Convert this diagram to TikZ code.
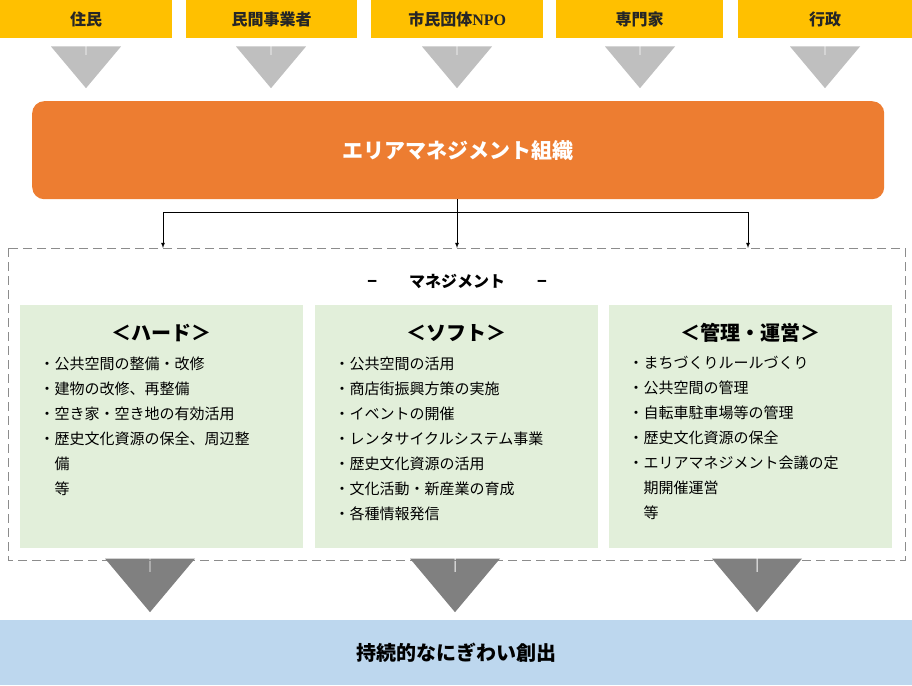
\documentclass[tikz,border=0pt]{standalone}
\usepackage{fontspec}
\setmainfont{Noto Sans CJK JP}
\newfontfamily\npofont{Liberation Serif}
\usetikzlibrary{positioning, shapes.arrows}
\definecolor{actorYellow}{HTML}{FFC000}
\definecolor{orgOrange}{HTML}{ED7D31}
\definecolor{areaGreen}{HTML}{E2EFDA}
\definecolor{goalBlue}{HTML}{BDD7EE}
\tikzset{
  actor/.style={fill=actorYellow, minimum height=38pt, inner sep=0pt, font=\fontsize{16}{18}\selectfont\bfseries, text=black!85},
  feed/.style={single arrow, fill=black!25, draw=none, shape border rotate=270, minimum height=33pt, minimum width=70pt, single arrow head extend=15pt, single arrow tip angle=80, inner sep=0pt},
  result/.style={feed, fill=black!50, minimum height=40pt, minimum width=90pt, single arrow head extend=18pt},
  field/.style={fill=areaGreen, minimum width=283pt, minimum height=243pt, anchor=north west, inner sep=0pt},
  item/.style={align=left, anchor=north west, font=\fontsize{15}{25}\selectfont}
}
\begin{document}
\begin{tikzpicture}[x=1pt, y=-1pt]
  \useasboundingbox (0,0) rectangle (912,685);

  % stakeholders
  \node[actor, minimum width=172pt, anchor=north west] (resident) at (0,0) {住民};
  \node[actor, minimum width=171pt, anchor=north west] (business) at (186,0) {民間事業者};
  \node[actor, minimum width=172pt, anchor=north west] (npo) at (371,0) {市民団体{\npofont NPO}};
  \node[actor, minimum width=167pt, anchor=north west] (expert) at (556,0) {専門家};
  \node[actor, minimum width=174pt, anchor=north west] (admin) at (738,0) {行政};
  \foreach \x in {86,271,457,640,825}
    \node[feed, anchor=north] at (\x,55) {};

  % organisation
  \node[fill=orgOrange, rounded corners=12pt, minimum width=852pt, minimum height=98pt, anchor=north west, text=white, font=\fontsize{21}{24}\selectfont\bfseries] (org) at (32,101) {エリアマネジメント組織};

  \coordinate (split) at (457,212);
  \coordinate (hardtop) at (163,248);
  \coordinate (softtop) at (457,248);
  \coordinate (mgmttop) at (748,248);
  \draw[thick] (org.south -| split) -- (split);
  \draw[thick, -latex] (split) -| (hardtop);
  \draw[thick, -latex] (split) -| (mgmttop);
  \draw[thick, -latex] (split) -- (softtop);

  % management area
  \draw[dashed, thick, black!45, dash pattern=on 9pt off 5pt] (8,248) rectangle (905,560);
  \node[font=\fontsize{16}{18}\selectfont\bfseries] (mgmt) at (457,281) {−\hspace{2em}マネジメント\hspace{2em}−};

  \node[field] (hard) at (20,305) {};
  \node[field] (soft) at (315,305) {};
  \node[field] (oper) at (609,305) {};
  \foreach \b/\t in {hard/＜ハード＞, soft/＜ソフト＞, oper/＜管理・運営＞}
    \node[font=\fontsize{20}{22}\selectfont\bfseries] at ([yshift=-28pt]\b.north) {\t};

  \node[item] at ([xshift=16pt, yshift=-48pt]hard.north west) {・公共空間の整備・改修\\・建物の改修、再整備\\・空き家・空き地の有効活用\\・歴史文化資源の保全、周辺整\\\hspace{1em}備\\\hspace{1em}等};
  \node[item] at ([xshift=16pt, yshift=-48pt]soft.north west) {・公共空間の活用\\・商店街振興方策の実施\\・イベントの開催\\・レンタサイクルシステム事業\\・歴史文化資源の活用\\・文化活動・新産業の育成\\・各種情報発信};
  \node[item] at ([xshift=16pt, yshift=-48pt]oper.north west) {・まちづくりルールづくり\\・公共空間の管理\\・自転車駐車場等の管理\\・歴史文化資源の保全\\・エリアマネジメント会議の定\\\hspace{1em}期開催運営\\\hspace{1em}等};

  % outcome
  \foreach \x in {150,455,757}
    \node[result, anchor=north] at (\x,572) {};
  \node[fill=goalBlue, minimum width=912pt, minimum height=65pt, anchor=north west, inner sep=0pt, font=\fontsize{20}{22}\selectfont\bfseries] (goal) at (0,620) {持続的なにぎわい創出};
\end{tikzpicture}
\end{document}
